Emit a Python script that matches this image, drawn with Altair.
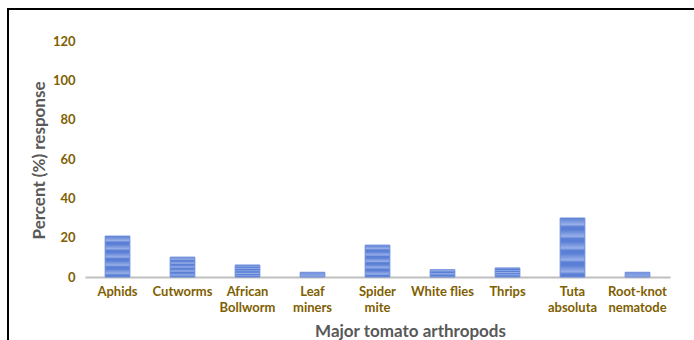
import altair as alt
import pandas as pd

categories = ["Aphids", "Cutworms", "African Bollworm", "Leaf miners", "Spider mite",
              "White flies", "Thrips", "Tuta absoluta", "Root-knot nematode"]
values = [20.8, 10.1, 6.1, 2.4, 16.2, 3.7, 4.6, 30.0, 2.4]
y_ticks = [0, 20, 40, 60, 80, 100, 120]

df = pd.DataFrame({"pest": categories, "pct": values})

LABEL_COLOR = "#7f6000"
TITLE_COLOR = "#595959"
FONT = "Lato"

DARK = "#5a7fd5"
LIGHT = "#98afe8"
stripe_stops = []
n = 5
for i in range(n):
    stripe_stops.append(alt.GradientStop(offset=i / n, color=DARK))
    stripe_stops.append(alt.GradientStop(offset=(i + 0.55) / n, color=LIGHT))
    stripe_stops.append(alt.GradientStop(offset=(i + 0.75) / n, color=DARK))
stripe_stops.append(alt.GradientStop(offset=1, color=DARK))
stripes = alt.Gradient(gradient="linear", stops=stripe_stops, x1=0, x2=0, y1=0, y2=1)

bars = alt.Chart(df).mark_bar(
    fill=stripes, stroke="#6a8cda", strokeWidth=1, opacity=1
).encode(
    x=alt.X("pest:N", sort=categories, scale=alt.Scale(paddingInner=0.62, paddingOuter=0.31),
            axis=alt.Axis(
                title="Major tomato arthropods",
                labelAngle=0,
                labelExpr="datum.value == 'White flies' ? datum.value : split(datum.value, ' ')",
                labelColor=LABEL_COLOR, labelFont=FONT, labelFontWeight="bold", labelFontSize=13,
                labelLineHeight=16, labelPadding=8, labelBaseline="top",
                ticks=False, domainColor="#bfbfbf", domainWidth=2,
                titleColor=TITLE_COLOR, titleFont=FONT, titleFontWeight="bold", titleFontSize=17,
                titleX=325, titleY=59, titleBaseline="alphabetic", titleAlign="center",
            )),
    y=alt.Y("pct:Q", scale=alt.Scale(domain=[0, 120], nice=False),
            axis=alt.Axis(
                title="Percent (%) response",
                values=y_ticks, grid=False, domain=False, ticks=False,
                labelColor=LABEL_COLOR, labelFont=FONT, labelFontWeight="bold", labelFontSize=13,
                labelPadding=10,
                titleColor=TITLE_COLOR, titleFont=FONT, titleFontWeight="bold", titleFontSize=17,
                titleX=-46, titleY=119, titleAngle=-90, titleBaseline="middle", titleAlign="center",
            )),
)

frame = alt.Chart(df).mark_rect(fill=None, stroke="black", strokeWidth=2).encode(
    x=alt.value(-77), x2=alt.value(620), y=alt.value(-32), y2=alt.value(310)
)

chart = alt.layer(frame, bars).properties(
    width=585, height=236,
    padding={"left": 85, "top": 41, "right": 24, "bottom": 63},
    autosize=alt.AutoSizeParams(type="none"),
    background="white",
).configure_view(stroke=None)

chart.save("out.html", embed_options={"renderer": "svg", "actions": False})
